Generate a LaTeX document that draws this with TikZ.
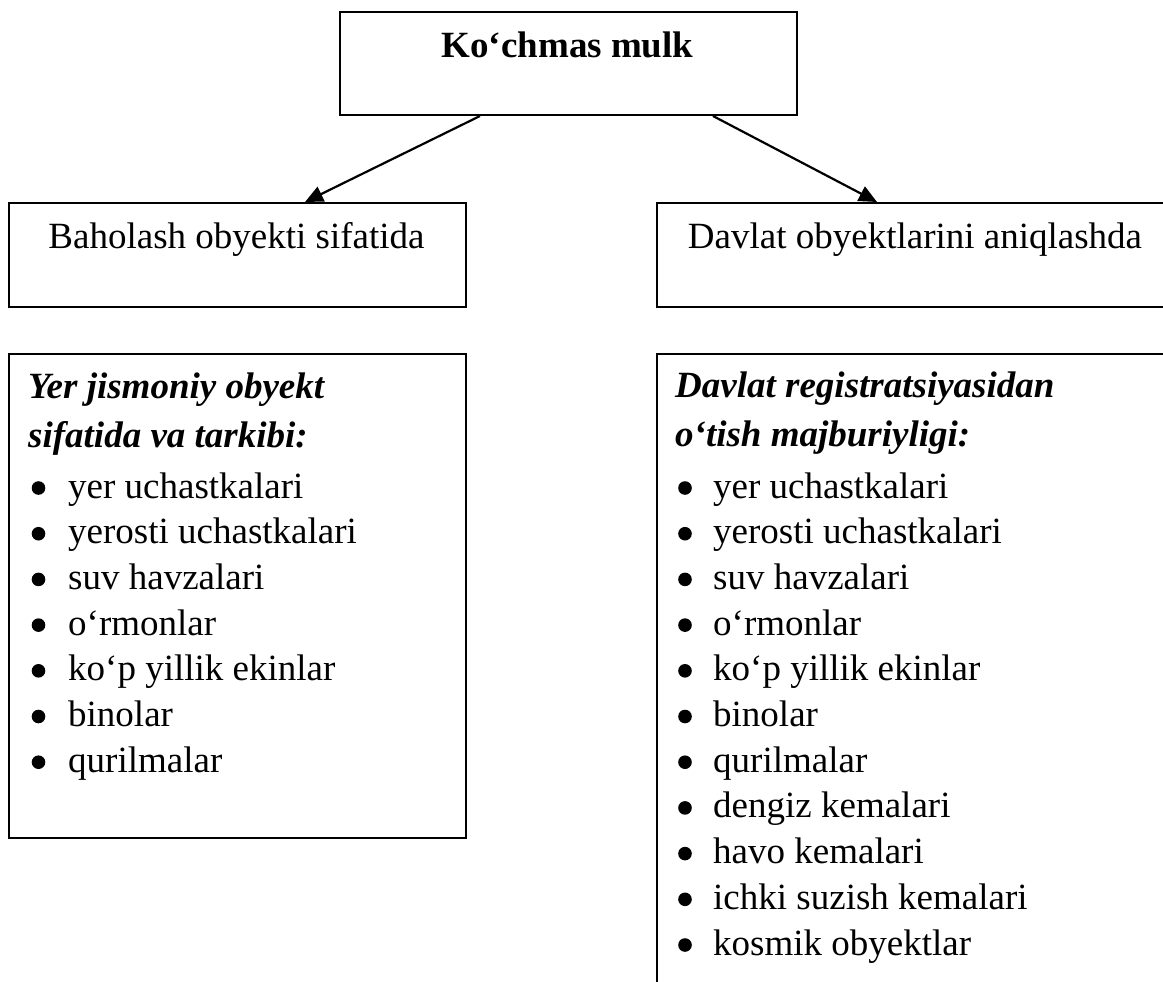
\documentclass[tikz,border=0pt]{standalone}
\usepackage{fontspec}
\setmainfont{Liberation Serif}
\usetikzlibrary{arrows.meta}

\tikzset{
  box/.style={draw, line width=2pt, rectangle, inner sep=0pt, anchor=north west},
  txt/.style={inner sep=0pt, font=\fontsize{37}{44}\selectfont},
  head/.style={txt, anchor=base west, font=\fontsize{37}{44}\selectfont\bfseries\itshape},
  item/.style={txt, anchor=base west},
  dot/.style={fill=black},
  arr/.style={line width=2.2pt, -{Triangle[length=18pt,width=16pt]}},
}

\begin{document}
\begin{tikzpicture}[x=1pt,y=-1pt]
  \clip (0,0) rectangle (1163,982);
  \fill[white] (0,0) rectangle (1163,982);

  % top box
  \node[box, minimum width=457pt, minimum height=103pt] (top) at (339,11) {};
  \node[txt, anchor=base, font=\fontsize{37}{44}\selectfont\bfseries] (toptext) at (567.5,58) {Ko‘chmas mulk};

  % middle boxes
  \node[box, minimum width=457pt, minimum height=104pt] (midL) at (8,202) {};
  \node[txt, anchor=base] (midLtext) at (236.5,248) {Baholash obyekti sifatida};
  \node[box, minimum width=518pt, minimum height=104pt] (midR) at (656,202) {};
  \node[txt, anchor=base] (midRtext) at (915,248) {Davlat obyektlarini aniqlashda};

  % arrows from the top box
  \draw[arr] ([xshift=141pt]top.south west) -- ([xshift=297pt]midL.north west);
  \draw[arr] ([xshift=374pt]top.south west) -- ([xshift=221pt]midR.north west);

  % lower boxes
  \node[box, minimum width=457pt, minimum height=484pt] (lowL) at (8,353) {};
  \node[box, minimum width=518pt, minimum height=700pt] (lowR) at (656,353) {};

  % left list
  \node[head] (hL1) at (28,398) {Yer jismoniy obyekt};
  \node[head] (hL2) at (28,447) {sifatida va tarkibi:};
  \foreach [count=\i] \t in {yer uchastkalari, yerosti uchastkalari, suv havzalari,
      o‘rmonlar, ko‘p yillik ekinlar, binolar, qurilmalar} {
    \node[item] (iL\i) at (68,{498+45.7*(\i-1)}) {\t};
    \fill[dot] ([shift={(-29.5,-10)}]iL\i.base west) circle (6.8pt);
  }

  % right list
  \node[head] (hR1) at (675,397) {Davlat registratsiyasidan};
  \node[head] (hR2) at (675,446) {o‘tish majburiyligi:};
  \foreach [count=\i] \t in {yer uchastkalari, yerosti uchastkalari, suv havzalari,
      o‘rmonlar, ko‘p yillik ekinlar, binolar, qurilmalar, dengiz kemalari,
      havo kemalari, ichki suzish kemalari, kosmik obyektlar} {
    \node[item] (iR\i) at (713,{498+45.7*(\i-1)}) {\t};
    \fill[dot] ([shift={(-28,-10)}]iR\i.base west) circle (6.8pt);
  }
\end{tikzpicture}
\end{document}
